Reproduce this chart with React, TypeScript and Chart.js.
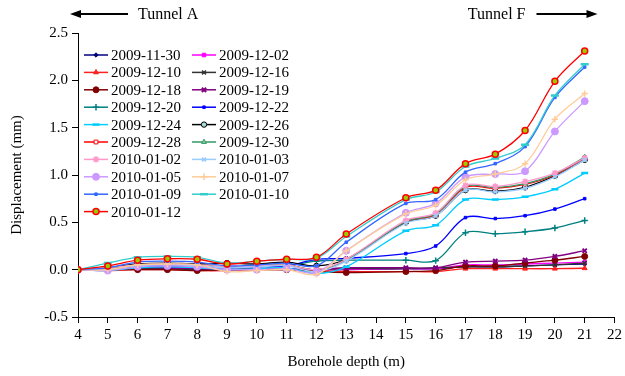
import React, { useEffect, useRef } from 'react';
import { Chart, registerables } from 'chart.js';
import { drawPoint } from 'chart.js/helpers';

Chart.register(...registerables);

// Borehole depths (m) at which displacement was measured
const depths = [4, 5, 6, 7, 8, 9, 10, 11, 12, 13, 15, 16, 17, 18, 19, 20, 21];

// Survey dates
const dates = [
  '2009-11-30', '2009-12-02', '2009-12-10', '2009-12-16', '2009-12-18',
  '2009-12-19', '2009-12-20', '2009-12-22', '2009-12-24', '2009-12-26',
  '2009-12-28', '2009-12-30', '2010-01-02', '2010-01-03', '2010-01-05',
  '2010-01-07', '2010-01-09', '2010-01-10', '2010-01-12',
];

// Displacement (mm) per survey, one value per depth
const d20091130 = [0, 0.0, 0.01, 0.01, 0.0, 0.0, 0.0, 0.0, 0.0, 0.0, 0.01, 0.01, 0.03, 0.03, 0.04, 0.05, 0.06];
const d20091202 = [0, 0.01, 0.02, 0.02, 0.01, 0.0, 0.01, 0.01, 0.0, 0.0, 0.01, 0.01, 0.05, 0.05, 0.06, 0.07, 0.08];
const d20091210 = [0, -0.01, 0.0, 0.0, -0.01, -0.01, 0.0, 0.0, -0.01, -0.02, -0.02, -0.02, 0.01, 0.01, 0.01, 0.01, 0.015];
const d20091216 = [0, 0.0, 0.01, 0.01, 0.0, 0.0, 0.01, 0.0, 0.0, 0.01, 0.01, 0.02, 0.03, 0.03, 0.04, 0.05, 0.07];
const d20091218 = [0, 0.0, 0.0, 0.0, -0.01, 0.0, 0.0, 0.0, -0.02, -0.03, -0.02, -0.01, 0.04, 0.04, 0.07, 0.1, 0.14];
const d20091219 = [0, 0.0, 0.02, 0.02, 0.01, 0.0, 0.01, 0.01, 0.0, 0.02, 0.02, 0.02, 0.08, 0.09, 0.1, 0.14, 0.2];
const d20091220 = [0, 0.0, 0.03, 0.04, 0.03, 0.02, 0.03, 0.04, 0.09, 0.1, 0.1, 0.095, 0.39, 0.38, 0.4, 0.44, 0.52];
const d20091222 = [0, 0.0, 0.03, 0.04, 0.03, 0.02, 0.03, 0.04, 0.11, 0.12, 0.17, 0.25, 0.55, 0.54, 0.57, 0.64, 0.75];
const d20091224 = [0, -0.01, 0.02, 0.03, 0.02, 0.0, 0.01, 0.02, -0.04, 0.03, 0.41, 0.47, 0.74, 0.74, 0.77, 0.85, 1.02];
const d20091226 = [0, 0.02, 0.06, 0.07, 0.06, 0.07, 0.06, 0.08, 0.04, 0.11, 0.5, 0.57, 0.84, 0.83, 0.87, 0.99, 1.16];
const d20091228 = [0, 0.01, 0.05, 0.06, 0.05, 0.03, 0.04, 0.05, 0.0, 0.1, 0.51, 0.58, 0.87, 0.86, 0.9, 1.0, 1.18];
const d20091230 = [0, 0.01, 0.05, 0.06, 0.05, 0.03, 0.04, 0.05, 0.0, 0.1, 0.51, 0.59, 0.88, 0.87, 0.91, 1.01, 1.19];
const d20100102 = [0, 0.02, 0.05, 0.06, 0.05, 0.03, 0.04, 0.05, 0.0, 0.11, 0.52, 0.6, 0.89, 0.88, 0.93, 1.02, 1.18];
const d20100103 = [0, 0.0, 0.04, 0.05, 0.04, 0.02, 0.03, 0.04, -0.02, 0.09, 0.49, 0.57, 0.84, 0.82, 0.86, 0.98, 1.16];
const d20100105 = [0, -0.01, 0.03, 0.04, 0.03, 0.0, 0.0, 0.01, -0.03, 0.2, 0.6, 0.7, 0.98, 1.01, 1.04, 1.46, 1.78];
const d20100107 = [0, 0.0, 0.05, 0.06, 0.05, -0.02, -0.01, 0.0, -0.05, 0.2, 0.59, 0.68, 0.95, 1.01, 1.12, 1.59, 1.86];
const d20100109 = [0, 0.02, 0.08, 0.09, 0.08, 0.04, 0.05, 0.07, 0.04, 0.29, 0.7, 0.74, 1.03, 1.12, 1.3, 1.82, 2.14];
const d20100110 = [0, 0.07, 0.13, 0.14, 0.13, 0.07, 0.09, 0.11, 0.12, 0.35, 0.74, 0.82, 1.09, 1.175, 1.32, 1.84, 2.17];
const d20100112 = [0, 0.04, 0.1, 0.115, 0.11, 0.06, 0.09, 0.11, 0.13, 0.376, 0.76, 0.84, 1.12, 1.22, 1.47, 1.99, 2.31];

const seriesValues = [
  d20091130, d20091202, d20091210, d20091216, d20091218,
  d20091219, d20091220, d20091222, d20091224, d20091226,
  d20091228, d20091230, d20100102, d20100103, d20100105,
  d20100107, d20100109, d20100110, d20100112,
];

const tunnelLabels = ['Tunnel A', 'Tunnel F'];

type SeriesStyle = {
  line: string;
  fill: string;
  stroke: string;
  pointStyle: string;
  radius: number;
  pointBorder: number;
};

// Line colour and marker look of each survey
const styles: SeriesStyle[] = [
  { line: '#000080', fill: '#000080', stroke: '#000080', pointStyle: 'rectRot', radius: 2.2, pointBorder: 1 },
  { line: '#FF00FF', fill: '#FF00FF', stroke: '#FF00FF', pointStyle: 'rect', radius: 2.5, pointBorder: 1 },
  { line: '#FF2020', fill: '#FF2020', stroke: '#FF2020', pointStyle: 'triangle', radius: 2.8, pointBorder: 1 },
  { line: '#333333', fill: '#333333', stroke: '#333333', pointStyle: 'crossRot', radius: 2.8, pointBorder: 1.5 },
  { line: '#800000', fill: '#800000', stroke: '#800000', pointStyle: 'circle', radius: 3, pointBorder: 1 },
  { line: '#800080', fill: '#800080', stroke: '#800080', pointStyle: 'crossRot', radius: 3, pointBorder: 2 },
  { line: '#008080', fill: '#008080', stroke: '#008080', pointStyle: 'cross', radius: 3.2, pointBorder: 1.5 },
  { line: '#0000FF', fill: '#0000FF', stroke: '#0000FF', pointStyle: 'rect', radius: 1.8, pointBorder: 1 },
  { line: '#00CCFF', fill: '#00CCFF', stroke: '#00CCFF', pointStyle: 'line', radius: 3.5, pointBorder: 2.5 },
  { line: '#000000', fill: '#A8DCDC', stroke: '#000000', pointStyle: 'circle', radius: 2.7, pointBorder: 1 },
  { line: '#FF0000', fill: '#FFFFFF', stroke: '#FF0000', pointStyle: 'rect', radius: 2.7, pointBorder: 1 },
  { line: '#339966', fill: '#88CC99', stroke: '#339966', pointStyle: 'triangle', radius: 2.8, pointBorder: 1 },
  { line: '#FF99CC', fill: '#FF99CC', stroke: '#FF99CC', pointStyle: 'star', radius: 3.2, pointBorder: 1.5 },
  { line: '#99CCFF', fill: '#99CCFF', stroke: '#99CCFF', pointStyle: 'crossRot', radius: 2.8, pointBorder: 1.5 },
  { line: '#CC99FF', fill: '#CC99FF', stroke: '#CC99FF', pointStyle: 'circle', radius: 3.5, pointBorder: 1 },
  { line: '#FFCC99', fill: '#FFCC99', stroke: '#FFCC99', pointStyle: 'cross', radius: 3.2, pointBorder: 1.5 },
  { line: '#3366FF', fill: '#3366FF', stroke: '#3366FF', pointStyle: 'rect', radius: 1.8, pointBorder: 1 },
  { line: '#33CCCC', fill: '#33CCCC', stroke: '#33CCCC', pointStyle: 'line', radius: 4, pointBorder: 2.5 },
  { line: '#FF0000', fill: '#99CC00', stroke: '#FF0000', pointStyle: 'circle', radius: 3, pointBorder: 1.5 },
];

const FONT = '"Liberation Serif", "Times New Roman", serif';

// Draws the two-column legend inside the plot and the tunnel direction arrows on top
const overlayPlugin = {
  id: 'overlay',
  afterDraw(chart: any) {
    const { ctx, chartArea } = chart;
    ctx.save();

    // Direction arrows
    const ay = 14;
    ctx.strokeStyle = '#000';
    ctx.fillStyle = '#000';
    ctx.lineWidth = 2;
    const arrow = (from: number, to: number) => {
      const dir = Math.sign(to - from);
      ctx.beginPath();
      ctx.moveTo(from, ay);
      ctx.lineTo(to - dir * 8, ay);
      ctx.stroke();
      ctx.beginPath();
      ctx.moveTo(to, ay);
      ctx.lineTo(to - dir * 11, ay - 4);
      ctx.lineTo(to - dir * 11, ay + 4);
      ctx.closePath();
      ctx.fill();
    };
    arrow(chartArea.left + 50, chartArea.left - 8);
    arrow(chartArea.right - 78, chartArea.right - 17);
    ctx.font = `16px ${FONT}`;
    ctx.textBaseline = 'middle';
    ctx.textAlign = 'left';
    ctx.fillText(tunnelLabels[0], chartArea.left + 60, ay + 1);
    ctx.textAlign = 'right';
    ctx.fillText(tunnelLabels[1], chartArea.right - 89, ay + 1);

    // Legend
    ctx.font = `15px ${FONT}`;
    ctx.textAlign = 'left';
    const colX = [chartArea.left + 6, chartArea.left + 114];
    const rowH = 17.4;
    chart.data.datasets.forEach((ds: any, i: number) => {
      const st = styles[i];
      const x0 = colX[i % 2];
      const y = chartArea.top + 22 + Math.floor(i / 2) * rowH;
      ctx.strokeStyle = st.line;
      ctx.lineWidth = 1.5;
      ctx.beginPath();
      ctx.moveTo(x0, y);
      ctx.lineTo(x0 + 24, y);
      ctx.stroke();
      ctx.fillStyle = st.fill;
      ctx.strokeStyle = st.stroke;
      ctx.lineWidth = st.pointBorder;
      drawPoint(ctx, { pointStyle: st.pointStyle as any, rotation: 0, radius: st.radius, borderWidth: st.pointBorder }, x0 + 12, y);
      ctx.fillStyle = '#000';
      ctx.fillText(ds.label, x0 + 27, y + 1);
    });
    ctx.restore();
  },
};

export default function App() {
  const canvasRef = useRef<HTMLCanvasElement | null>(null);

  useEffect(() => {
    if (!canvasRef.current) return;
    const n = dates.length;
    const datasets = dates.map((label, i) => {
      const st = styles[i];
      return {
        label,
        data: depths.map((x, j) => ({ x, y: seriesValues[i][j] })),
        borderColor: st.line,
        borderWidth: 1.3,
        backgroundColor: st.fill,
        pointBackgroundColor: st.fill,
        pointBorderColor: st.stroke,
        pointBorderWidth: st.pointBorder,
        pointStyle: st.pointStyle,
        pointRadius: st.radius,
        tension: 0.35,
        fill: false,
        order: n - i,
      };
    });

    const tickFont = { family: FONT, size: 15 };
    const chart = new Chart(canvasRef.current, {
      type: 'line',
      data: { datasets },
      plugins: [overlayPlugin],
      options: {
        responsive: false,
        animation: false,
        layout: { padding: { top: 33, right: 9, left: 0, bottom: 0 } },
        plugins: {
          legend: { display: false },
          tooltip: { enabled: false },
        },
        scales: {
          x: {
            type: 'linear',
            min: 4,
            max: 22,
            ticks: { stepSize: 1, color: '#000', font: tickFont, padding: 3, maxRotation: 0 },
            grid: { drawOnChartArea: false, drawTicks: true, tickLength: 6, color: '#000' },
            border: { color: '#000', width: 1 },
            title: {
              display: true,
              text: 'Borehole depth (m)',
              color: '#000',
              font: tickFont,
              padding: { top: 0, bottom: 5 },
            },
            afterFit: (s: any) => { s.height = 59; },
          },
          y: {
            min: -0.5,
            max: 2.5,
            ticks: {
              stepSize: 0.5,
              color: '#000',
              font: tickFont,
              padding: 4,
              callback: (v: any) => Number(v).toFixed(1),
            },
            grid: { drawOnChartArea: false, drawTicks: true, tickLength: 6, color: '#000' },
            border: { color: '#000', width: 1 },
            title: {
              display: true,
              text: 'Displacement (mm)',
              color: '#000',
              font: tickFont,
              padding: { top: 8, bottom: 0 },
            },
            afterFit: (s: any) => { s.width = 78; },
          },
        },
      },
    } as any);

    return () => chart.destroy();
  }, []);

  return (
    <div style={{ position: 'absolute', left: 0, top: 0, width: 625, height: 376, background: '#fff' }}>
      <canvas ref={canvasRef} width={625} height={376} />
    </div>
  );
}
